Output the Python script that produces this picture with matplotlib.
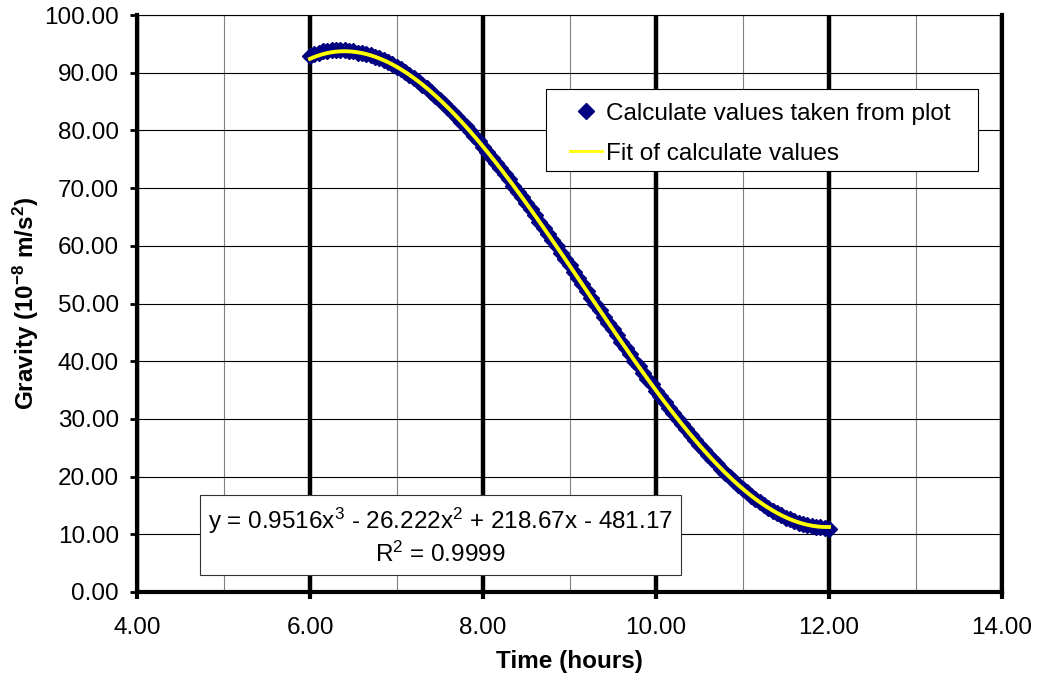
import numpy as np
import matplotlib
matplotlib.use("Agg")
import matplotlib.pyplot as plt
from matplotlib.lines import Line2D
from matplotlib.patches import Rectangle
from matplotlib.ticker import MultipleLocator, FormatStrFormatter

plt.rcParams['font.family'] = ['Liberation Sans', 'DejaVu Sans']
plt.rcParams['mathtext.fontset'] = 'custom'
plt.rcParams['mathtext.rm'] = 'Liberation Sans'
plt.rcParams['mathtext.bf'] = 'Liberation Sans:bold'
plt.rcParams['mathtext.default'] = 'regular'

# gravity values read every 0.05 h between 6 and 12 hours
time_h = [6.00, 6.05, 6.10, 6.15, 6.20, 6.25, 6.30, 6.35, 6.40, 6.45,
          6.50, 6.55, 6.60, 6.65, 6.70, 6.75, 6.80, 6.85, 6.90, 6.95,
          7.00, 7.05, 7.10, 7.15, 7.20, 7.25, 7.30, 7.35, 7.40, 7.45,
          7.50, 7.55, 7.60, 7.65, 7.70, 7.75, 7.80, 7.85, 7.90, 7.95,
          8.00, 8.05, 8.10, 8.15, 8.20, 8.25, 8.30, 8.35, 8.40, 8.45,
          8.50, 8.55, 8.60, 8.65, 8.70, 8.75, 8.80, 8.85, 8.90, 8.95,
          9.00, 9.05, 9.10, 9.15, 9.20, 9.25, 9.30, 9.35, 9.40, 9.45,
          9.50, 9.55, 9.60, 9.65, 9.70, 9.75, 9.80, 9.85, 9.90, 9.95,
          10.00, 10.05, 10.10, 10.15, 10.20, 10.25, 10.30, 10.35, 10.40, 10.45,
          10.50, 10.55, 10.60, 10.65, 10.70, 10.75, 10.80, 10.85, 10.90, 10.95,
          11.00, 11.05, 11.10, 11.15, 11.20, 11.25, 11.30, 11.35, 11.40, 11.45,
          11.50, 11.55, 11.60, 11.65, 11.70, 11.75, 11.80, 11.85, 11.90, 11.95,
          12.00]
gravity = [92.9, 93.3, 93.5, 93.7, 93.8, 93.9, 93.9, 93.9, 93.9, 93.8,
           93.7, 93.5, 93.4, 93.2, 93.0, 92.8, 92.5, 92.2, 91.8, 91.5,
           91.0, 90.6, 90.1, 89.6, 89.1, 88.5, 87.8, 87.3, 86.6, 86.0,
           85.3, 84.6, 83.9, 83.1, 82.3, 81.5, 80.7, 79.9, 79.0, 78.1,
           77.2, 76.3, 75.3, 74.4, 73.4, 72.5, 71.5, 70.4, 69.4, 68.4,
           67.4, 66.3, 65.3, 64.2, 63.1, 62.1, 61.0, 59.9, 58.8, 57.7,
           56.6, 55.5, 54.4, 53.3, 52.2, 51.0, 49.9, 48.8, 47.7, 46.6,
           45.5, 44.5, 43.4, 42.3, 41.2, 40.1, 39.1, 38.0, 37.0, 36.0,
           34.9, 33.9, 32.9, 31.9, 31.0, 30.0, 29.1, 28.2, 27.2, 26.4,
           25.5, 24.6, 23.8, 23.0, 22.2, 21.4, 20.7, 19.9, 19.2, 18.6,
           17.9, 17.3, 16.7, 16.1, 15.6, 15.1, 14.6, 14.1, 13.7, 13.3,
           12.9, 12.6, 12.3, 12.0, 11.8, 11.6, 11.4, 11.3, 11.2, 11.1,
           11.0]

# cubic trendline coefficients (highest power first) and R^2
fit_coef = [0.9516, -26.222, 218.67, -481.17]
r_squared = 0.9999

fs = 17.5
fig = plt.figure(figsize=(10.37, 6.81), dpi=100)
ax = fig.add_axes([137/1037, 1-592/681, 865/1037, 577/681])

ax.set_xlim(4, 14)
ax.set_ylim(0, 100)
ax.xaxis.set_major_locator(MultipleLocator(2))
ax.xaxis.set_minor_locator(MultipleLocator(1))
ax.yaxis.set_major_locator(MultipleLocator(10))
ax.xaxis.set_major_formatter(FormatStrFormatter('%.2f'))
ax.yaxis.set_major_formatter(FormatStrFormatter('%.2f'))

ax.grid(True, axis='y', which='major', color='black', lw=0.8)
ax.grid(True, axis='x', which='major', color='black', lw=3.2)
ax.grid(True, axis='x', which='minor', color='#808080', lw=0.8)
ax.set_axisbelow(True)

for side in ['left', 'bottom', 'right']:
    ax.spines[side].set_linewidth(3)
ax.spines['top'].set_linewidth(0.8)

ax.tick_params(axis='both', which='major', direction='out', length=5, width=3,
               labelsize=fs)
ax.tick_params(axis='y', width=2, pad=8)
ax.tick_params(axis='x', pad=13)
ax.tick_params(axis='x', which='minor', length=0)

ax.set_xlabel('Time (hours)', fontsize=fs, fontweight='bold', labelpad=8)
ax.set_ylabel('Gravity (10$^{-8}$ m/s$^{2}$)', fontsize=fs, fontweight='bold', labelpad=2)

ax.plot(time_h, gravity, ls='none', marker='D', ms=8.5, color='#000080',
        mec='#000080', zorder=3)
xf = np.linspace(time_h[0], time_h[-1], 300)
ax.plot(xf, np.polyval(fit_coef, xf), color='#FFFF00', lw=2.8, zorder=4)

# legend box
ax.add_patch(Rectangle((0.4728, 0.7296), 0.4994, 0.1421, transform=ax.transAxes,
                       fc='white', ec='black', lw=0.8, zorder=5, clip_on=False))
handles = [Line2D([], [], ls='none', marker='D', ms=8, color='#000080'),
           Line2D([], [], color='#FFFF00', lw=2)]
leg = ax.legend(handles, ['Calculate values taken from plot', 'Fit of calculate values'],
                loc='upper left', bbox_to_anchor=(0.5006, 0.848), frameon=False,
                borderpad=0, borderaxespad=0, handlelength=1.3, handletextpad=0.2,
                labelspacing=0.75, fontsize=fs)
leg.set_zorder(6)

eq = ('y = %.4fx$^3$ - %.3fx$^2$ + %.2fx - %.2f\nR$^2$ = %.4f'
      % (fit_coef[0], -fit_coef[1], fit_coef[2], -fit_coef[3], r_squared))
ax.text(7.51, 9.7, eq, ha='center', va='center', fontsize=fs,
        multialignment='center', linespacing=1.3, zorder=6,
        bbox=dict(boxstyle='square,pad=0.33', fc='white', ec='#333333', lw=0.8))

fig.savefig('out.png', dpi=100)
